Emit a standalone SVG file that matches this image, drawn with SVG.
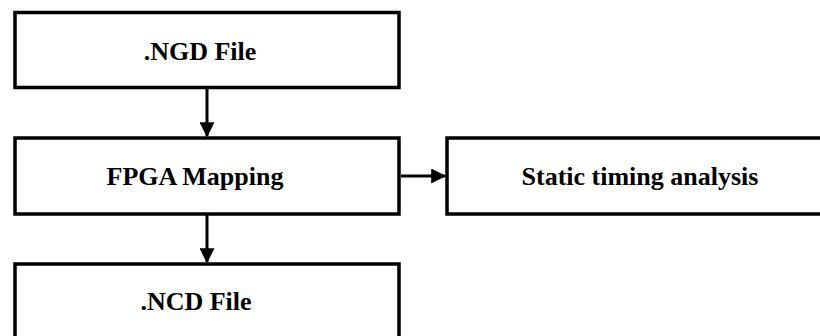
<svg xmlns="http://www.w3.org/2000/svg" width="820" height="336" viewBox="0 0 820 336">
<style>
.box{fill:#fff;stroke:#000;stroke-width:3.5}
.lbl{font-family:"Liberation Serif","Times New Roman",serif;font-weight:bold;font-size:26px;fill:#000;text-anchor:middle}
.con{stroke:#000;stroke-width:3;fill:none}
</style>
<defs>
<marker id="ah" markerWidth="5" markerHeight="5" refX="4.6" refY="2.5" orient="auto" markerUnits="strokeWidth">
<path d="M0,0 L5,2.5 L0,5 Z" fill="#000"/>
</marker>
</defs>
<rect width="820" height="336" fill="#fff"/>
<g id="n1"><rect class="box" x="15" y="12.5" width="384" height="75"/><text class="lbl" x="200" y="60">.NGD File</text></g>
<g id="n2"><rect class="box" x="15" y="138" width="384" height="76"/><text class="lbl" x="195" y="185">FPGA Mapping</text></g>
<g id="n3"><rect class="box" x="447" y="138" width="390" height="76"/><text class="lbl" x="640" y="185">Static timing analysis</text></g>
<g id="n4"><rect class="box" x="15" y="264" width="384" height="90"/><text class="lbl" x="196" y="310">.NCD File</text></g>
<g id="connectors">
<path class="con" d="M207,89 L207,136" marker-end="url(#ah)"/>
<path class="con" d="M207,215 L207,262" marker-end="url(#ah)"/>
<path class="con" d="M401,176 L445,176" marker-end="url(#ah)"/>
</g>
</svg>
